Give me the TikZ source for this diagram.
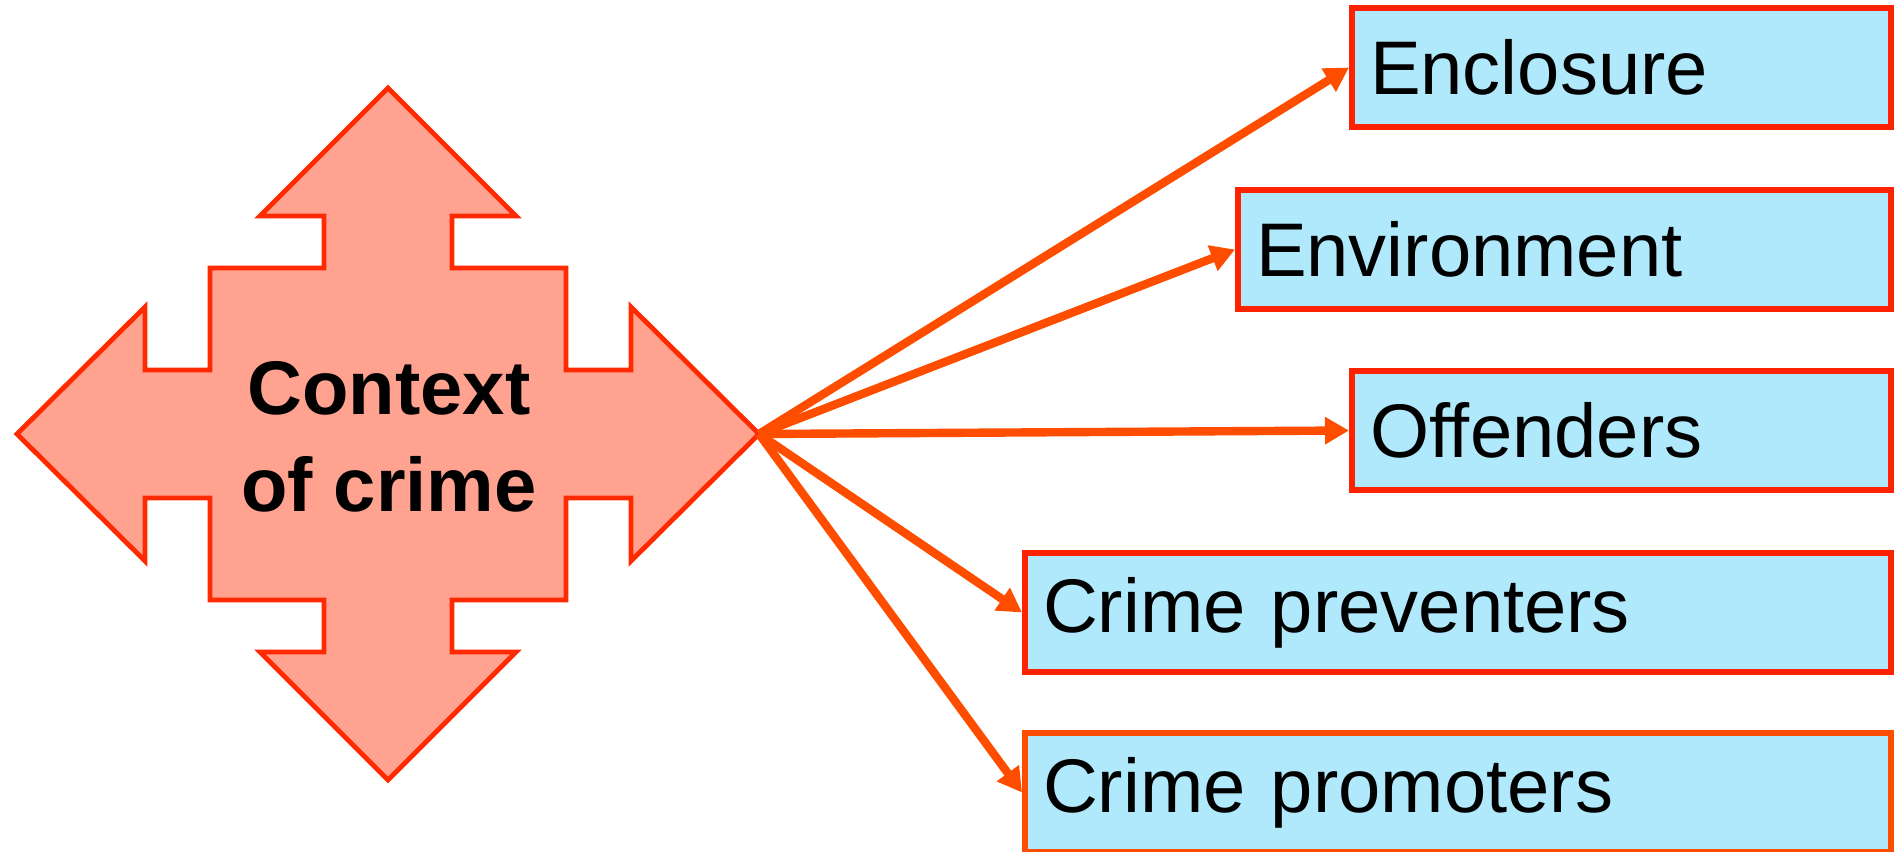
\documentclass[tikz,border=0pt]{standalone}
\usepackage{fontspec}
\setmainfont{Liberation Sans}
\usepackage{tikz}
\usetikzlibrary{arrows.meta}

\definecolor{crossfill}{HTML}{FFA28F}
\definecolor{crossline}{HTML}{FF2A00}
\definecolor{boxblue}{HTML}{B0E9FB}
\definecolor{boxred}{HTML}{FF2200}
\definecolor{linkorange}{HTML}{FF4D00}

\tikzset{
  factor/.style={draw=boxred, fill=boxblue, line width=3pt, anchor=west,
    minimum height=59.5pt, inner xsep=9pt, align=left,
    font=\fontsize{38}{46}\selectfont},
  link/.style={-{Triangle[length=12pt,width=13pt]}, line width=4.2pt, linkorange}
}

\begin{document}
\begin{tikzpicture}[x=0.5pt,y=-0.5pt]
  \useasboundingbox (0,0) rectangle (1894,851);
  % four-way arrow
  \draw[fill=crossfill, draw=crossline, line width=2.4pt, line join=miter]
    (388,88) -- (516,216) -- (452,216) -- (452,268) -- (566,268) -- (566,370)
    -- (631,370) -- (631,307) -- (759,434) -- (631,561) -- (631,498) -- (566,498)
    -- (566,600) -- (452,600) -- (452,652) -- (516,652) -- (388,780) -- (260,652)
    -- (324,652) -- (324,600) -- (210,600) -- (210,498) -- (145,498) -- (145,561)
    -- (17,434) -- (145,307) -- (145,370) -- (210,370) -- (210,268) -- (324,268)
    -- (324,216) -- (260,216) -- cycle;
  \coordinate (tip) at (759,434);
  \node[align=center, font=\fontsize{38}{48.3}\selectfont\bfseries] (ctx) at (389,437) {Context\\of crime};

  \node[factor, text width=251.5pt] (encl) at (1349,67.5) {Enclosure};
  \node[factor, text width=308.5pt] (env) at (1235,249.5) {Environment};
  \node[factor, text width=251.5pt] (off) at (1349,430.5) {Offenders};
  \node[factor, text width=415pt] (prev) at (1022,612.5) {Crime preventers};
  \node[factor, text width=415pt, draw=linkorange] (prom) at (1022,792.5) {Crime promoters};

  \draw[link] (tip) -- (encl.west);
  \draw[link] (tip) -- (env.west);
  \draw[link] (tip) -- (off.west);
  \draw[link] (tip) -- (prev.west);
  \draw[link] (tip) -- (prom.west);
\end{tikzpicture}
\end{document}
